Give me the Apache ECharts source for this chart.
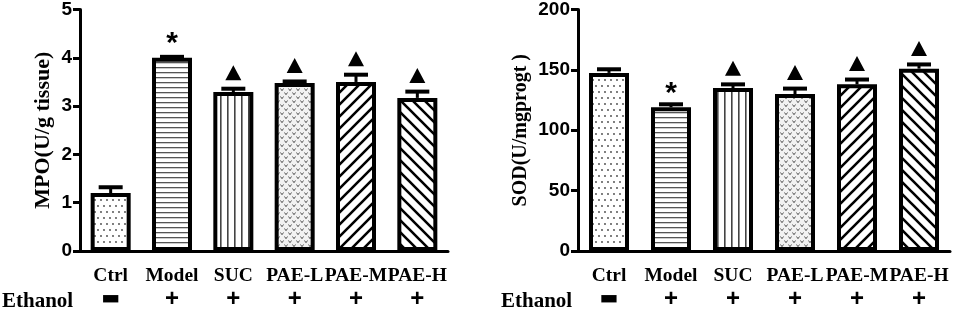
<!DOCTYPE html>
<html>
<head>
<meta charset="utf-8">
<script src="https://cdn.jsdelivr.net/npm/echarts@6/dist/echarts.min.js"></script>
<style>
  html, body { margin: 0; padding: 0; background: #fff; }
  #chart { width: 969px; height: 311px; }
</style>
</head>
<body>
<div id="chart"></div>
<script>
  // 数据
  var categories = ['Ctrl', 'Model', 'SUC', 'PAE-L', 'PAE-M', 'PAE-H'];
  var ethanol = ['−', '+', '+', '+', '+', '+'];
  var mpoMean = [1.20, 4.00, 3.29, 3.48, 3.50, 3.17];
  var mpoErr = [0.12, 0.02, 0.07, 0.03, 0.15, 0.13];
  var sodMean = [147.5, 119, 135, 130, 138, 151];
  var sodErr = [3, 2.5, 3, 4.5, 4, 3.5];
  var marks = ['', '*', '▲', '▲', '▲', '▲'];
  var mpoTicks = [0, 1, 2, 3, 4, 5];
  var sodTicks = [0, 50, 100, 150, 200];

  // 填充图案
  function makePattern(kind) {
    var c = document.createElement('canvas');
    var ctx;
    var s;
    if (kind === 'dots') {
      s = 12; c.width = s; c.height = s; ctx = c.getContext('2d');
      ctx.fillStyle = '#fff'; ctx.fillRect(0, 0, s, s);
      ctx.fillStyle = '#444';
      [[2, 2], [8, 2], [5, 8], [11, 8]].forEach(function (p) {
        ctx.beginPath(); ctx.arc(p[0], p[1], 0.9, 0, Math.PI * 2); ctx.fill();
      });
    } else if (kind === 'hlines') {
      c.width = 4; c.height = 5; ctx = c.getContext('2d');
      ctx.fillStyle = '#fff'; ctx.fillRect(0, 0, 4, 5);
      ctx.fillStyle = '#555'; ctx.fillRect(0, 2, 4, 1.3);
    } else if (kind === 'vlines') {
      c.width = 7; c.height = 4; ctx = c.getContext('2d');
      ctx.fillStyle = '#fff'; ctx.fillRect(0, 0, 7, 4);
      ctx.fillStyle = '#444'; ctx.fillRect(3, 0, 1.6, 4);
    } else if (kind === 'texture') {
      s = 8; c.width = s; c.height = s; ctx = c.getContext('2d');
      ctx.fillStyle = '#f2f2f2'; ctx.fillRect(0, 0, s, s);
      ctx.strokeStyle = '#555'; ctx.lineWidth = 1;
      [[0.5, 0.5], [4.5, 4.5]].forEach(function (p) {
        ctx.beginPath();
        ctx.moveTo(p[0], p[1]); ctx.lineTo(p[0] + 1.5, p[1] + 2.2); ctx.lineTo(p[0] + 3, p[1]);
        ctx.stroke();
      });
    } else {
      s = 12; c.width = s; c.height = s; ctx = c.getContext('2d');
      ctx.fillStyle = '#fff'; ctx.fillRect(0, 0, s, s);
      ctx.strokeStyle = '#000'; ctx.lineWidth = 2.6;
      ctx.beginPath();
      if (kind === 'fwd') {
        ctx.moveTo(-2, s + 2); ctx.lineTo(s + 2, -2);
        ctx.moveTo(-2, 2); ctx.lineTo(2, -2);
        ctx.moveTo(s - 2, s + 2); ctx.lineTo(s + 2, s - 2);
      } else {
        ctx.moveTo(-2, -2); ctx.lineTo(s + 2, s + 2);
        ctx.moveTo(s - 2, -2); ctx.lineTo(s + 2, 2);
        ctx.moveTo(-2, s - 2); ctx.lineTo(2, s + 2);
      }
      ctx.stroke();
    }
    return { image: c, repeat: 'repeat' };
  }
  var patterns = ['dots', 'hlines', 'vlines', 'texture', 'fwd', 'back'].map(makePattern);

  var chart = echarts.init(document.getElementById('chart'));

  var serif = '"Liberation Serif", "Times New Roman", serif';
  var sans = '"Liberation Sans", Arial, sans-serif';

  function xAxisCfg(gi) {
    return {
      type: 'category', gridIndex: gi, data: categories,
      axisLine: { lineStyle: { color: '#000', width: 3 } },
      axisTick: { alignWithLabel: true, length: 7, lineStyle: { color: '#000', width: 2.5 } },
      axisLabel: {
        interval: 0, margin: 14,
        formatter: function (v, i) {
          var sign = ethanol[i] === '−' ? '{c|▬}' : '{b|' + ethanol[i] + '}';
          return '{a|' + v + '}\n' + sign;
        },
        rich: {
          a: { fontFamily: serif, fontWeight: 'bold', fontSize: 19.5, color: '#000', lineHeight: 22 },
          b: { fontFamily: sans, fontWeight: 'bold', fontSize: 24, color: '#000', lineHeight: 24 },
          c: { fontFamily: '"DejaVu Sans"', fontSize: 20, color: '#000', lineHeight: 24 }
        }
      }
    };
  }

  function yAxisCfg(gi, name, max, interval, gap, nameSize, margin) {
    return {
      type: 'value', gridIndex: gi, min: 0, max: max, interval: interval,
      name: name, nameLocation: 'middle', nameGap: gap,
      nameTextStyle: { fontFamily: serif, fontWeight: 'bold', fontSize: nameSize, color: '#000' },
      axisLine: { show: true, lineStyle: { color: '#000', width: 3 } },
      axisTick: { show: true, length: 7, lineStyle: { color: '#000', width: 3 } },
      axisLabel: { margin: margin, fontFamily: sans, fontWeight: 'bold', fontSize: 19, color: '#000' },
      splitLine: { show: false }
    };
  }

  function barSeries(gi, mean) {
    return {
      type: 'bar', xAxisIndex: gi, yAxisIndex: gi, barWidth: 40,
      data: mean.map(function (v, i) {
        return { value: v, itemStyle: { color: patterns[i], borderColor: '#000', borderWidth: 4 } };
      }),
      silent: true, z: 2
    };
  }

  function errSeries(gi, mean, err) {
    return {
      type: 'custom', xAxisIndex: gi, yAxisIndex: gi, silent: true, z: 3,
      data: mean.map(function (v, i) { return [i, v, v + err[i]]; }),
      renderItem: function (params, api) {
        var b = api.coord([api.value(0), api.value(1)]);
        var t = api.coord([api.value(0), api.value(2)]);
        return {
          type: 'group',
          children: [
            { type: 'line', shape: { x1: b[0], y1: b[1], x2: t[0], y2: t[1] }, style: { stroke: '#000', lineWidth: 3 } },
            { type: 'line', shape: { x1: t[0] - 12, y1: t[1], x2: t[0] + 12, y2: t[1] }, style: { stroke: '#000', lineWidth: 4 } }
          ]
        };
      }
    };
  }

  function markSeries(gi, mean, err, starDy) {
    return {
      type: 'custom', xAxisIndex: gi, yAxisIndex: gi, silent: true, z: 4,
      data: mean.map(function (v, i) { return [i, v + err[i]]; }),
      renderItem: function (params, api) {
        var i = params.dataIndex;
        var p = api.coord([api.value(0), api.value(1)]);
        var m = marks[i];
        if (m === '*') {
          return {
            type: 'text',
            style: { text: '*', x: p[0], y: p[1] + starDy, align: 'center', verticalAlign: 'bottom',
              font: 'bold 30px ' + sans, fill: '#000' }
          };
        }
        if (m === '▲') {
          var cy = p[1] - 16;
          return {
            type: 'polygon',
            shape: { points: [[p[0] - 8, cy + 7.5], [p[0] + 8, cy + 7.5], [p[0], cy - 7.5]] },
            style: { fill: '#000' }
          };
        }
        return { type: 'group', children: [] };
      }
    };
  }

  var option = {
    animation: false,
    backgroundColor: '#fff',
    grid: [
      { left: 80, top: 8, width: 368, height: 246 },
      { left: 578, top: 8, width: 372, height: 246 }
    ],
    xAxis: [xAxisCfg(0), xAxisCfg(1)],
    yAxis: [
      yAxisCfg(0, 'MPO(U/g tissue)', mpoTicks[mpoTicks.length - 1], mpoTicks[1] - mpoTicks[0], 26, 22, 8),
      yAxisCfg(1, 'SOD(U/mgprogt )', sodTicks[sodTicks.length - 1], sodTicks[1] - sodTicks[0], 47, 20, 8)
    ],
    graphic: [
      { type: 'text', left: 2, top: 291, style: { text: 'Ethanol', font: 'bold 21px ' + serif, fill: '#000' } },
      { type: 'text', left: 501, top: 291, style: { text: 'Ethanol', font: 'bold 21px ' + serif, fill: '#000' } }
    ],
    series: [
      barSeries(0, mpoMean), errSeries(0, mpoMean, mpoErr), markSeries(0, mpoMean, mpoErr, 2),
      barSeries(1, sodMean), errSeries(1, sodMean, sodErr), markSeries(1, sodMean, sodErr, 4)
    ]
  };

  chart.setOption(option);
  window.addEventListener('resize', function () {
    chart.resize();
  });
</script>
</body>
</html>
